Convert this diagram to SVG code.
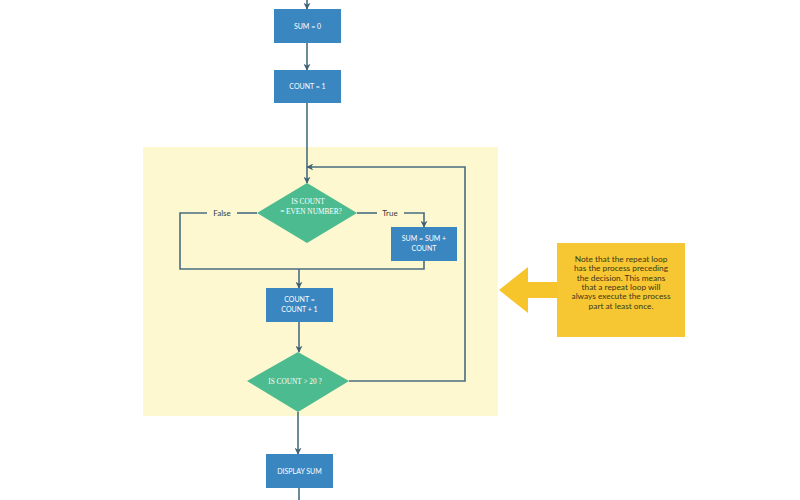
<svg xmlns="http://www.w3.org/2000/svg" width="800" height="500" viewBox="0 0 800 500">
<defs>
<style>
.box{fill:#3a86c0;}
.dia{fill:#4cbb8f;}
.ln{fill:none;stroke:#486c80;stroke-width:1.6;}
.bt{font-family:Lato,"Liberation Sans",sans-serif;font-size:7px;fill:#ffffff;text-anchor:middle;}
.dt{font-family:"Liberation Serif",serif;font-size:7.3px;fill:#ffffff;text-anchor:middle;}
.lb{font-family:Lato,"Liberation Sans",sans-serif;font-size:8px;fill:#3a3a3a;text-anchor:middle;}
.nt{font-family:Lato,"Liberation Sans",sans-serif;font-size:8.3px;fill:#3d3716;text-anchor:middle;}
</style>
<marker id="ah" viewBox="0 0 10 10" refX="9" refY="5" markerWidth="7" markerHeight="7" markerUnits="userSpaceOnUse" orient="auto">
<path d="M0,0 L10,5 L0,10 L3,5 Z" fill="#3f6275"/>
</marker>
</defs>
<rect width="800" height="500" fill="#ffffff"/>
<rect id="loop-area" x="143" y="147" width="355" height="269" fill="#fdf8d0"/>

<g id="connectors">
<line class="ln" x1="307" y1="0" x2="307" y2="9" marker-end="url(#ah)"/>
<line class="ln" x1="307" y1="43" x2="307" y2="70" marker-end="url(#ah)"/>
<line class="ln" x1="307" y1="103" x2="307" y2="183" marker-end="url(#ah)"/>
<polyline class="ln" points="349,381 465,381 465,167 307,167" marker-end="url(#ah)"/>
<line class="ln" x1="257" y1="213" x2="237" y2="213"/>
<polyline class="ln" points="207,213 180,213 180,269 424,269 424,261"/>
<line class="ln" x1="357" y1="213" x2="377" y2="213"/>
<polyline class="ln" points="404,213 424,213 424,227" marker-end="url(#ah)"/>
<line class="ln" x1="299" y1="269" x2="299" y2="288" marker-end="url(#ah)"/>
<line class="ln" x1="299" y1="322" x2="299" y2="352" marker-end="url(#ah)"/>
<line class="ln" x1="298" y1="412" x2="298" y2="454" marker-end="url(#ah)"/>
<line class="ln" x1="299" y1="488" x2="299" y2="500"/>
<text class="lb" x="222" y="216">False</text>
<text class="lb" x="390" y="216">True</text>
</g>

<g id="sum0">
<rect class="box" x="274" y="9" width="67" height="34"/>
<text class="bt" x="307.5" y="28.5">SUM = 0</text>
</g>
<g id="count1">
<rect class="box" x="274" y="70" width="67" height="33"/>
<text class="bt" x="307.5" y="89">COUNT = 1</text>
</g>
<g id="even">
<polygon class="dia" points="307,183 357,213 307,243 257,213"/>
<text class="dt" x="308" y="204">IS COUNT</text>
<text class="dt" x="311" y="214">= EVEN NUMBER?</text>
</g>
<g id="sumadd">
<rect class="box" x="391" y="227" width="66" height="34"/>
<text class="bt" x="424" y="241">SUM = SUM +</text>
<text class="bt" x="424" y="251">COUNT</text>
</g>
<g id="countinc">
<rect class="box" x="266" y="288" width="67" height="34"/>
<text class="bt" x="299.5" y="302">COUNT =</text>
<text class="bt" x="299.5" y="312">COUNT + 1</text>
</g>
<g id="gt20">
<polygon class="dia" points="298,352 349,381 298,412 247,381"/>
<text class="dt" x="295" y="384" font-size="8px">IS COUNT  &gt; 20 ?</text>
</g>
<g id="display">
<rect class="box" x="266" y="454" width="67" height="34"/>
<text class="bt" x="299.5" y="473.5">DISPLAY SUM</text>
</g>
<g id="note">
<polygon points="499,290 528,267 528,282 558,282 558,298 528,298 528,313" fill="#f6c52c"/>
<rect x="557" y="243" width="128" height="94" fill="#f7c733"/>
<text class="nt" x="621" y="262">Note that the repeat loop</text>
<text class="nt" x="621" y="271.3">has the process preceding</text>
<text class="nt" x="621" y="280.6">the decision. This means</text>
<text class="nt" x="621" y="289.9">that a repeat loop will</text>
<text class="nt" x="621" y="299.2">always execute the process</text>
<text class="nt" x="621" y="308.5">part at least once.</text>
</g>
</svg>
